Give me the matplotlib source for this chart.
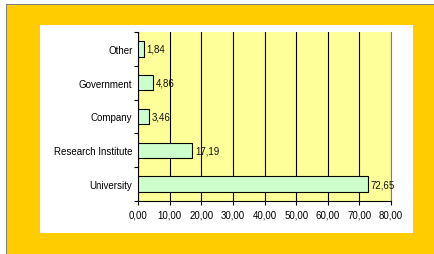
import matplotlib
matplotlib.use("Agg")
import matplotlib.pyplot as plt
from matplotlib.patches import Rectangle

categories = ["University", "Research Institute", "Company", "Government", "Other"]
values = [72.65, 17.19, 3.46, 4.86, 1.84]
labels = ["72,65", "17,19", "3,46", "4,86", "1,84"]
xticks = [0, 10, 20, 30, 40, 50, 60, 70, 80]
xticklabels = ["0,00", "10,00", "20,00", "30,00", "40,00", "50,00", "60,00", "70,00", "80,00"]

plt.rcParams['font.family'] = ['Liberation Sans', 'DejaVu Sans']
W, H = 434, 255
fig = plt.figure(figsize=(W/100, H/100), dpi=100)
fig.patch.set_facecolor('white')
# outer gold frame
fig.patches.append(Rectangle((7/W, 0), 1 - 7/W, 1 - 6/H, transform=fig.transFigure,
                             facecolor='#FFCC00', edgecolor='none', zorder=0))
fig.patches.append(Rectangle((7/W, 1 - 6/H), 1 - 7/W, 1.2/H, transform=fig.transFigure,
                             facecolor='#808080', edgecolor='none', zorder=0))
fig.patches.append(Rectangle((6/W, 0), 1.2/W, 1 - 5/H, transform=fig.transFigure,
                             facecolor='#808080', edgecolor='none', zorder=0))
# white panel
fig.patches.append(Rectangle((40/W, 1 - 234/H), 373/W, 208/H, transform=fig.transFigure,
                             facecolor='white', edgecolor='none', zorder=1))

ax = fig.add_axes([138/W, 1 - 202/H, 253/W, 169/H])
ax.set_facecolor('#FFFF99')
ax.set_zorder(2)
y = list(range(len(categories)))
ax.barh(y, values, height=0.45, color='#CCFFCC', edgecolor='black', linewidth=0.8, zorder=3)
for yi, v, lab in zip(y, values, labels):
    ax.text(v + 0.8, yi, lab, va='center', ha='left', fontsize=7, color='#111111', zorder=4)
ax.set_xlim(0, 80)
ax.set_ylim(-0.5, len(categories) - 0.5)
ax.set_xticks(xticks)
ax.set_xticklabels(xticklabels, fontsize=7)
ax.set_yticks(y)
ax.set_yticklabels(categories, fontsize=7)
ax.set_yticks([i - 0.5 for i in range(len(categories) + 1)], minor=True)
ax.tick_params(axis='y', which='major', length=0, pad=4)
ax.tick_params(axis='y', which='minor', length=3, width=0.8, direction='out')
ax.tick_params(axis='x', length=3, width=0.8, direction='out', pad=3)
ax.grid(axis='x', color='black', linewidth=0.8, zorder=1)
ax.set_axisbelow(True)
ax.spines['top'].set_visible(False)
ax.spines['right'].set_color('#808080')
ax.spines['right'].set_linewidth(0.8)
ax.spines['left'].set_linewidth(0.8)
ax.spines['bottom'].set_linewidth(0.8)
fig.savefig('out.png', dpi=100, facecolor=fig.get_facecolor())
